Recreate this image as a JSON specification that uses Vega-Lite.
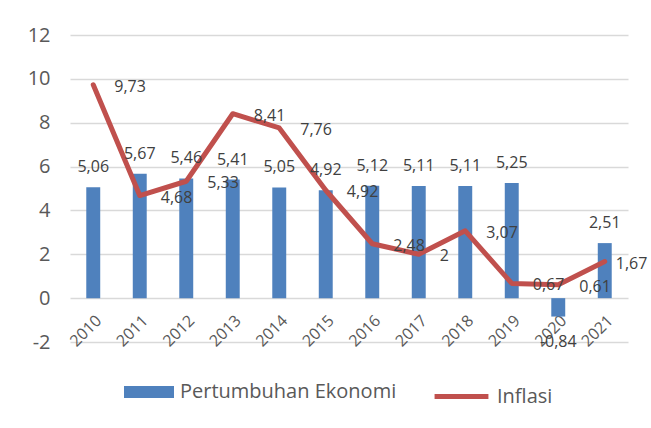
{
  "$schema": "https://vega.github.io/schema/vega-lite/v6.json",
  "width": 558,
  "height": 307,
  "autosize": {"type": "none"},
  "padding": {"left": 70, "top": 35, "right": 23, "bottom": 86},
  "background": "white",
  "config": {
    "locale": {"number": {"decimal": ",", "thousands": ".", "grouping": [3], "currency": ["Rp", ""], "minus": "-"}},
    "view": {"stroke": null},
    "font": "Open Sans"
  },
  "data": {
    "values": [
      {"year": "2010", "pe": 5.06, "inf": 9.73},
      {"year": "2011", "pe": 5.67, "inf": 4.68},
      {"year": "2012", "pe": 5.46, "inf": 5.33},
      {"year": "2013", "pe": 5.41, "inf": 8.41},
      {"year": "2014", "pe": 5.05, "inf": 7.76},
      {"year": "2015", "pe": 4.92, "inf": 4.92},
      {"year": "2016", "pe": 5.12, "inf": 2.48},
      {"year": "2017", "pe": 5.11, "inf": 2},
      {"year": "2018", "pe": 5.11, "inf": 3.07},
      {"year": "2019", "pe": 5.25, "inf": 0.67},
      {"year": "2020", "pe": -0.84, "inf": 0.61},
      {"year": "2021", "pe": 2.51, "inf": 1.67}
    ]
  },
  "encoding": {
    "x": {
      "field": "year", "type": "ordinal",
      "scale": {"paddingInner": 0, "paddingOuter": 0},
      "axis": {"title": null, "domain": false, "ticks": false, "grid": false, "labelAngle": -45, "offset": -44, "labelPadding": 14, "labelFontSize": 16, "labelColor": "#595959"}
    }
  },
  "layer": [
    {
      "mark": {"type": "bar", "width": {"band": 0.3}},
      "encoding": {
        "y": {
          "field": "pe", "type": "quantitative",
          "scale": {"domain": [-2, 12], "nice": false, "zero": false},
          "axis": {"title": null, "domain": false, "ticks": false, "values": [-2, 0, 2, 4, 6, 8, 10, 12], "gridColor": "#d9d9d9", "gridWidth": 1.5, "labelFontSize": 20, "labelColor": "#595959", "labelPadding": 20, "format": "d"}
        },
        "fill": {
          "datum": "Pertumbuhan Ekonomi",
          "scale": {"range": ["#4f81bd"]},
          "legend": {"title": null, "orient": "none", "legendX": 54, "legendY": 332, "symbolType": "M-1,-0.24H1V0.24H-1Z", "symbolSize": 2500, "symbolStrokeWidth": 0, "labelFontSize": 20, "labelColor": "#595959", "labelOffset": 6, "labelLimit": 0}
        }
      }
    },
    {
      "mark": {"type": "line", "strokeWidth": 5, "strokeJoin": "round", "strokeCap": "round"},
      "encoding": {
        "y": {"field": "inf", "type": "quantitative"},
        "stroke": {
          "datum": "Inflasi",
          "scale": {"range": ["#c0504d"]},
          "legend": {"title": null, "orient": "none", "legendX": 362, "legendY": 332, "symbolType": "stroke", "symbolSize": 2900, "symbolStrokeWidth": 5, "labelFontSize": 20, "labelColor": "#595959", "labelOffset": 6, "labelLimit": 0}
        }
      }
    },
    {
      "transform": [{"filter": "datum.pe >= 0"}],
      "mark": {"type": "text", "baseline": "alphabetic", "dy": -15, "fontSize": 16, "color": "#404040"},
      "encoding": {
        "y": {"field": "pe", "type": "quantitative"},
        "text": {"field": "pe", "type": "quantitative", "format": ".2~f"}
      }
    },
    {
      "transform": [{"filter": "datum.pe < 0"}],
      "mark": {"type": "text", "baseline": "middle", "dy": 25, "fontSize": 16, "color": "#404040"},
      "encoding": {
        "y": {"field": "pe", "type": "quantitative"},
        "text": {"field": "pe", "type": "quantitative", "format": ".2~f"}
      }
    },
    {
      "transform": [{"filter": "datum.year != '2021'"}],
      "mark": {"type": "text", "align": "left", "baseline": "middle", "dx": 21, "dy": 2, "fontSize": 16, "color": "#404040"},
      "encoding": {
        "y": {"field": "inf", "type": "quantitative"},
        "text": {"field": "inf", "type": "quantitative", "format": ".2~f"}
      }
    },
    {
      "transform": [{"filter": "datum.year == '2021'"}],
      "mark": {"type": "text", "align": "left", "baseline": "middle", "dx": 11, "dy": 2, "fontSize": 16, "color": "#404040"},
      "encoding": {
        "y": {"field": "inf", "type": "quantitative"},
        "text": {"field": "inf", "type": "quantitative", "format": ".2~f"}
      }
    }
  ]
}
